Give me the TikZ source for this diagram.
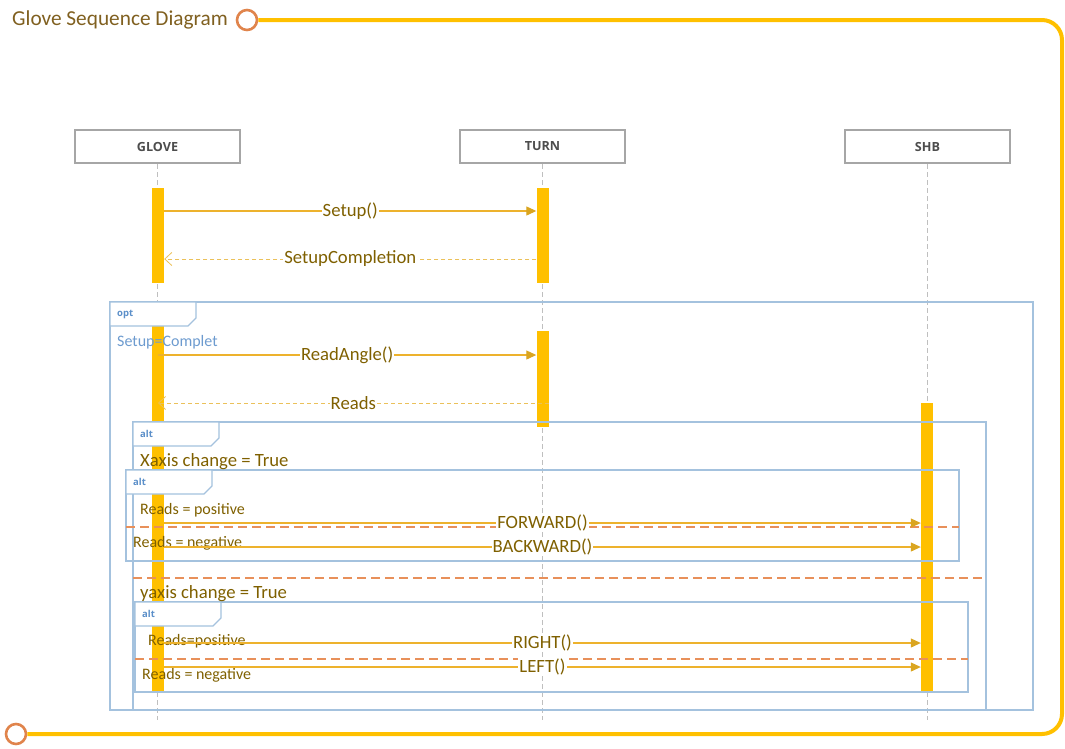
\documentclass[tikz,border=0pt]{standalone}
\usepackage{fontspec}
\setmainfont{Carlito}
\newfontfamily\headfont{Open Sans}
\usepackage{xcolor}
\usepackage{tikz}
\usetikzlibrary{arrows.meta}
\usetikzlibrary{positioning}

\definecolor{framey}{HTML}{FFC000}
\definecolor{ringc}{HTML}{E0844C}
\definecolor{titlec}{HTML}{806020}
\definecolor{boxgray}{HTML}{A6A6A6}
\definecolor{headtext}{HTML}{4D4D4D}
\definecolor{barc}{HTML}{FFC000}
\definecolor{msgc}{HTML}{EDB22D}
\definecolor{replyc}{HTML}{EBC15A}
\definecolor{tipc}{HTML}{DAA520}
\definecolor{labc}{HTML}{7F6000}
\definecolor{fragc}{HTML}{A4C2DE}
\definecolor{tabtext}{HTML}{5B8FC9}
\definecolor{guardblue}{HTML}{6D9BCF}
\definecolor{sepc}{HTML}{E8905A}
\definecolor{lifegray}{HTML}{BFBFBF}

\tikzstyle{outline} = [line width=4pt, draw=framey]
\tikzstyle{ring} = [circle, draw=ringc, line width=2.6pt, fill=white, minimum size=20pt, inner sep=0pt]
\tikzstyle{head} = [draw=boxgray, line width=2pt, fill=white, minimum width=165pt, minimum height=33pt, font=\headfont\bfseries\fontsize{12.6}{14}\selectfont, text=headtext]
\tikzstyle{life} = [draw=lifegray, line width=0.8pt, dash pattern=on 5pt off 3pt]
\tikzstyle{bar} = [fill=barc, minimum width=12pt, inner sep=0pt]
\tikzstyle{frag} = [draw=fragc, line width=1.3pt]
\tikzstyle{tab} = [font=\headfont\bfseries\fontsize{9.5}{11}\selectfont, text=tabtext, anchor=west, inner sep=0pt]
\tikzstyle{sep} = [draw=sepc, line width=1.1pt, dash pattern=on 9pt off 5pt]
\tikzstyle{msg} = [draw=msgc, line width=1.1pt, -{Triangle[length=10pt,width=9pt,color=tipc]}]
\tikzstyle{reply} = [draw=replyc, line width=1pt, dash pattern=on 4pt off 3pt, -{Straight Barb[length=7pt,width=13pt,line width=0.8pt]}]
\tikzstyle{lab} = [midway, fill=white, inner sep=1pt, text=labc, font=\fontsize{18.7}{20}\selectfont]
\tikzstyle{guard} = [anchor=west, inner sep=0pt, text=labc, font=\fontsize{18.7}{20}\selectfont]
\tikzstyle{cond} = [anchor=west, inner sep=0pt, text=labc, font=\fontsize{16}{18}\selectfont]

\begin{document}
\begin{tikzpicture}[x=1pt, y=-1pt]
  \useasboundingbox (0,0) rectangle (1065,748);
  % outer frame
  \node[anchor=west, inner sep=0pt, text=titlec, font=\fontsize{21.3}{24}\selectfont] (title) at (12,20) {Glove Sequence Diagram};
  \node[ring] (ring1) at (247,20) {};
  \node[ring] (ring2) at (16,734) {};
  \draw[outline, rounded corners=20pt] (ring1.east) -- (1062,20) -- (1062,734) -- (ring2.east);
  % lifelines
  \node[head] (glove) at (157.5,146.5) {GLOVE};
  \node[head] (turn) at (542.5,146.5) {TURN};
  \node[head] (shb) at (927.5,146.5) {SHB};
  \coordinate (lifeend) at (0,720);
  \draw[life] (glove.south) -- (glove.south |- lifeend);
  \draw[life] (turn.south) -- (turn.south |- lifeend);
  \draw[life] (shb.south) -- (shb.south |- lifeend);
  % activations
  \node[bar, minimum height=95pt] (gbar1) at (158,235.5) {};
  \node[bar, minimum height=365pt] (gbar2) at (158,508.5) {};
  \node[bar, minimum height=95pt] (tbar1) at (542.5,235.5) {};
  \node[bar, minimum height=96pt] (tbar2) at (542.5,379) {};
  \node[bar, minimum height=288pt] (sbar) at (927,547) {};
  % fragments
  \draw[frag] (110,302) rectangle (1033,710);
  \draw[frag] (133,422) rectangle (986,710);
  \draw[frag] (126,470) rectangle (959,561);
  \draw[frag] (135,602) rectangle (968,692);
  \foreach \x/\y/\t [count=\i] in {110/302/opt, 133/422/alt, 126/470/alt, 135/602/alt}{
    \draw[frag, fill=white] (\x,\y) -- ++(86,0) -- ++(0,16) -- ++(-8,8) -- ++(-78,0) -- cycle;
    \node[tab] (tab\i) at (\x+7,\y+12) {\t};
  }
  \draw[sep] (133,578) -- (986,578);
  \draw[sep] (126,527) -- (959,527);
  \draw[sep] (135,659) -- (968,659);
  % guards
  \node[anchor=west, inner sep=0pt, text=guardblue, font=\fontsize{16}{18}\selectfont] (g0) at (117,342) {Setup=Complet};
  \node[guard] (g1) at (140,462) {Xaxis change = True};
  \node[guard] (g2) at (140,594) {yaxis change = True};
  \node[cond] (c1) at (140,510) {Reads = positive};
  \node[cond] (c2) at (133,543) {Reads = negative};
  \node[cond] (c3) at (148,641) {Reads=positive};
  \node[cond] (c4) at (142,675) {Reads = negative};
  % messages
  \coordinate (m1) at (0,211);
  \coordinate (m2) at (0,259);
  \coordinate (m3) at (0,355);
  \coordinate (m4) at (0,403);
  \coordinate (m5) at (0,523);
  \coordinate (m6) at (0,547);
  \coordinate (m7) at (0,643);
  \coordinate (m8) at (0,667);
  \draw[msg] (gbar1.east |- m1) -- (tbar1.west |- m1) node[lab] {Setup()};
  \draw[reply] (tbar1.west |- m2) -- (gbar1.east |- m2) node[lab] {SetupCompletion};
  \draw[msg] (gbar2.center |- m3) -- (tbar2.west |- m3) node[lab] {ReadAngle()};
  \draw[reply] (tbar2.east |- m4) -- (gbar2.center |- m4) node[lab] {Reads};
  \draw[msg] (gbar2.east |- m5) -- (sbar.west |- m5) node[lab] {FORWARD()};
  \draw[msg] (gbar2.east |- m6) -- (sbar.west |- m6) node[lab] {BACKWARD()};
  \draw[msg] (gbar2.east |- m7) -- (sbar.west |- m7) node[lab] {RIGHT()};
  \draw[msg] (gbar2.east |- m8) -- (sbar.west |- m8) node[lab] {LEFT()};
\end{tikzpicture}
\end{document}
